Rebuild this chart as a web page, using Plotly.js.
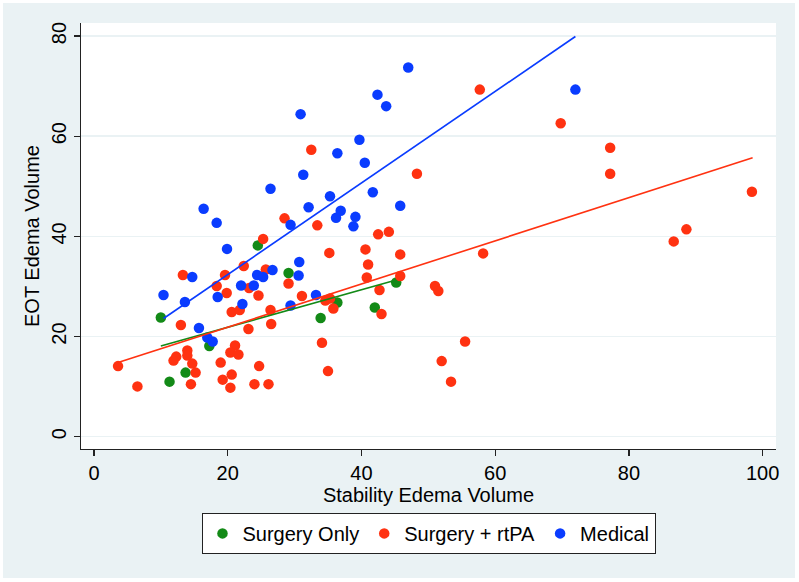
<!DOCTYPE html>
<html>
<head>
<meta charset="utf-8">
<script src="https://cdn.plot.ly/plotly-3.0.1.min.js"></script>
<style>html,body{margin:0;padding:0;background:#fff;}#chart{width:799px;height:582px;}</style>
</head>
<body>
<div id="chart"></div>
<script>
// ---- Data ----
const groupNames = ["Surgery Only", "Surgery + rtPA", "Medical"];

const surgeryOnlyX = [24.5, 29.1, 10.0, 17.25, 13.7, 11.3, 36.4, 42.0, 33.9, 45.2];
const surgeryOnlyY = [38.2, 32.7, 23.8, 18.1, 12.8, 11.0, 26.8, 25.8, 23.7, 30.8];

const rtpaX = [25.3, 28.5, 32.5, 33.4, 42.5, 44.1, 40.6, 35.2, 57.7, 69.8,
               77.2, 48.3, 77.2, 98.4, 88.6, 86.7, 58.2, 45.8, 45.8, 51.0,
               51.5, 55.5, 52.0, 53.4, 22.4, 19.6, 13.3, 25.7, 29.1, 18.35,
               23.2, 19.85, 24.6, 20.6, 21.8, 26.4, 13.0, 26.5, 23.1, 21.1,
               20.4, 21.6, 13.96, 13.96, 12.3, 11.9, 14.7, 15.2, 18.95, 24.7,
               3.6, 20.6, 19.25, 14.5, 6.5, 20.4, 24.0, 26.1, 41.0, 40.8,
               42.7, 31.1, 34.6, 35.3, 35.8, 43.0, 34.1, 35.0];
const rtpaY = [39.5, 43.6, 57.3, 42.2, 40.4, 40.9, 37.4, 36.7, 69.3, 62.6,
               57.7, 52.5, 52.5, 48.9, 41.4, 39.0, 36.6, 36.4, 32.1, 30.1,
               29.1, 19.0, 15.1, 11.0, 34.1, 32.3, 32.3, 33.4, 30.6, 30.1,
               29.7, 28.7, 28.2, 24.9, 25.3, 25.3, 22.3, 22.5, 21.5, 18.2,
               16.8, 16.4, 17.2, 16.2, 16.0, 15.2, 14.6, 12.8, 14.8, 14.1,
               14.1, 12.4, 11.4, 10.5, 10.05, 9.8, 10.5, 10.5, 34.4, 31.8,
               29.3, 28.1, 27.2, 27.6, 25.6, 24.5, 18.75, 13.1];

const medicalX = [16.4, 18.35, 19.9, 29.4, 30.9, 31.3, 26.4, 32.1, 35.3, 36.4,
                  36.2, 36.9, 39.1, 38.8, 39.7, 40.5, 42.4, 43.7, 41.7, 45.8,
                  47.0, 72.0, 14.7, 24.4, 25.3, 26.7, 22.0, 23.9, 18.5, 10.4,
                  13.6, 22.2, 29.4, 15.7, 16.95, 17.75, 30.6, 30.7, 33.2];
const medicalY = [45.5, 42.7, 37.5, 42.3, 64.4, 52.3, 49.5, 45.8, 48.0, 56.6,
                  43.7, 45.1, 43.9, 42.0, 59.3, 54.7, 68.3, 66.0, 48.8, 46.1,
                  73.7, 69.3, 31.9, 32.3, 31.9, 33.3, 30.2, 30.2, 27.9, 28.3,
                  26.9, 26.5, 26.2, 21.7, 19.8, 19.0, 32.2, 34.9, 28.3];

// Fitted-line endpoints
const fitSurgeryOnlyX = [10.0, 45.2];
const fitSurgeryOnlyY = [18.1, 31.3];
const fitRtpaX = [3.6, 98.5];
const fitRtpaY = [14.8, 55.7];
const fitMedicalX = [10.4, 72.0];
const fitMedicalY = [23.6, 79.9];

const xTicks = [0, 20, 40, 60, 80, 100];
const yTicks = [0, 20, 40, 60, 80];
const xTitle = "Stability Edema Volume";
const yTitle = "EOT Edema Volume";

// ---- Styles ----
const colGreen = "#138a17";
const colRed = "#ff3211";
const colBlue = "#0a3cff";
const FONT = "Liberation Sans, Arial, Helvetica, sans-serif";
const fs = 20;

function pts(x, y, name, color) {
  return {type: "scatter", mode: "markers", x: x, y: y, name: name,
          marker: {color: color, size: 10.5, line: {width: 0}},
          hoverinfo: "x+y"};
}
function fit(x, y, color) {
  return {type: "scatter", mode: "lines", x: x, y: y, showlegend: false,
          line: {color: color, width: 1.6}, hoverinfo: "skip"};
}

const data = [
  pts(surgeryOnlyX, surgeryOnlyY, groupNames[0], colGreen),
  pts(rtpaX, rtpaY, groupNames[1], colRed),
  pts(medicalX, medicalY, groupNames[2], colBlue),
  fit(fitSurgeryOnlyX, fitSurgeryOnlyY, colGreen),
  fit(fitRtpaX, fitRtpaY, colRed),
  fit(fitMedicalX, fitMedicalY, colBlue)
];

const bgBlue = "#eaf2f4";
const layout = {
  width: 799, height: 582,
  margin: {l: 81, r: 23, t: 23, b: 133, pad: 0},
  paper_bgcolor: "#ffffff",
  plot_bgcolor: "rgba(0,0,0,0)",
  font: {family: FONT, size: fs, color: "#000"},
  showlegend: true,
  shapes: [
    {type: "rect", xref: "paper", yref: "paper", x0: -0.1122, x1: 1.0273, y0: -0.3028, y1: 1.0469,
     fillcolor: bgBlue, line: {width: 0}, layer: "below"},
    {type: "rect", xref: "paper", yref: "paper", x0: 0, x1: 1, y0: 0, y1: 1,
     fillcolor: "#ffffff", line: {width: 0}, layer: "below"}
  ],
  xaxis: {
    range: [-1.94, 102.0],
    tickvals: xTicks, ticktext: xTicks.map(String),
    showgrid: false, zeroline: false,
    showline: true, linecolor: "#222", linewidth: 1.3,
    ticks: "outside", ticklen: 6, tickwidth: 1.3, tickcolor: "#222",
    tickfont: {family: FONT, size: fs, color: "#000"},
    title: {text: xTitle, font: {family: FONT, size: fs, color: "#000"}, standoff: 4}
  },
  yaxis: {
    range: [-2.45, 82.6],
    tickvals: yTicks, ticktext: yTicks.map(String),
    tickangle: -90,
    showgrid: true, gridcolor: bgBlue, gridwidth: 1.5,
    zeroline: false,
    showline: true, linecolor: "#222", linewidth: 1.3,
    ticks: "outside", ticklen: 6, tickwidth: 1.3, tickcolor: "#222",
    tickfont: {family: FONT, size: fs, color: "#000"},
    title: {text: yTitle, font: {family: FONT, size: fs, color: "#000"}, standoff: 2}
  },
  legend: {
    orientation: "h", x: 0.5, xanchor: "center", y: -0.15, yanchor: "top",
    bgcolor: "#ffffff", bordercolor: "#222", borderwidth: 1,
    font: {family: FONT, size: fs, color: "#000"},
    traceorder: "normal"
  }
};

Plotly.newPlot("chart", data, layout, {staticPlot: true, displayModeBar: false});
</script>
</body>
</html>
